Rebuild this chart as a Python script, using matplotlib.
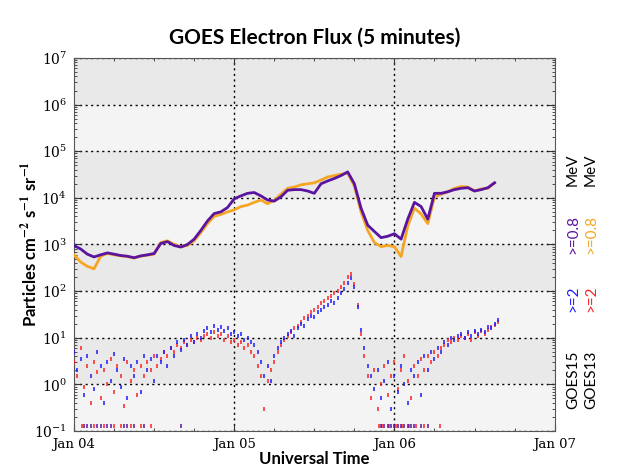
import numpy as np
import matplotlib.pyplot as plt
from matplotlib.ticker import LogLocator, NullFormatter, MultipleLocator

plt.rcParams['mathtext.fontset'] = 'stix'

# hours after Jan 04 00:00 UT
day_labels = ["Jan 04", "Jan 05", "Jan 06", "Jan 07"]
decades = [10.0**k for k in range(-1, 8)]

# >=0.8 MeV, hourly readings
hours_08 = np.arange(64)
goes15_08 = [950, 800, 620, 540, 600, 660, 620, 580, 560, 520, 570, 600, 640, 1050, 1150, 950,
             880, 1000, 1300, 2000, 3200, 4600, 5000, 6200, 9500, 11000, 12500, 13000, 11000, 9000, 8500, 10500,
             14500, 15000, 15000, 14000, 12500, 20000, 23000, 26000, 30000, 36000, 20000, 6000, 2600, 1900, 1400, 1500,
             1700, 1300, 3500, 8000, 6500, 3500, 12500, 12500, 13500, 15000, 16000, 16500, 14000, 15000, 16500, 21000]
goes13_08 = [600, 420, 340, 300, 560, 640, 600, 570, 550, 510, 560, 590, 620, 1100, 1200, 1000,
             900, 950, 1200, 1800, 2800, 4000, 4400, 5000, 5500, 6500, 7000, 8000, 9000, 7500, 8800, 12000,
             16000, 17000, 19000, 20000, 21000, 24000, 28000, 30000, 32000, 34000, 18000, 5000, 2000, 1100, 900, 950,
             900, 550, 2500, 6000, 4500, 2800, 10500, 12000, 13500, 16000, 17500, 17000, 14000, 15500, 16000, 21000]

# >=2 MeV, half-hourly readings
hours_2 = np.arange(128) / 2.0
goes15_2 = [5, 2, 3.5, 0.6, 4, 1.5, 0.8, 5, 2.5, 0.4, 3, 1.2, 4.5, 2, 0.9, 3.5,
            0.5, 2.5, 1.5, 3, 0.7, 4, 2, 3.5, 1.2, 4, 3, 5, 2.5, 6, 4, 8,
            5.5, 9, 7, 11, 8, 12, 10, 14, 16, 13, 18, 15, 17, 14, 16, 12,
            13, 11, 12, 9, 10, 8, 7, 5, 3, 1.5, 2.5, 1.2, 4, 6, 8, 10,
            12, 14, 11, 16, 20, 18, 25, 30, 28, 35, 40, 45, 50, 60, 55, 70,
            90, 110, 150, 190, 120, 45, 15, 6, 2.5, 1.5, 0.8, 2, 0.5, 1.2, 3, 0.3,
            1.5, 0.7, 2.5, 1.0, 0.4, 2, 1.5, 3, 0.6, 4, 2, 5, 3.5, 6, 5, 8,
            7, 10, 9, 11, 12, 10, 13, 11, 14, 12, 15, 13, 17, 16, 20, 24]
goes13_2 = [3, 1.5, 6, 0.9, 2.5, 0.4, 3, 1.8, 0.5, 2, 1, 3.5, 0.7, 2.5, 1.5, 0.35,
            3, 1.2, 2, 0.6, 2.5, 1.5, 3, 2, 4, 2.5, 3.5, 5, 4, 6, 5, 7,
            6, 8, 7, 9, 8, 10, 9, 11, 12, 10, 13, 11, 12, 9, 11, 8,
            9, 7, 8, 6, 7, 5, 4, 2.5, 1.5, 0.3, 1.2, 2, 3, 5, 7, 9,
            11, 13, 16, 18, 22, 26, 30, 35, 40, 45, 55, 60, 70, 80, 90, 100,
            120, 150, 200, 230, 140, 50, 12, 4, 1.5, 0.5, 2, 0.3, 1, 2.5, 0.6, 1.5,
            3, 0.8, 2, 4, 1.2, 0.5, 2.5, 1.5, 3.5, 2, 4, 3, 5, 4, 6, 7,
            9, 8, 10, 9, 11, 10, 12, 9, 13, 11, 14, 12, 15, 17, 19, 22]

# readings sitting on the bottom floor
floor_val = 0.13
goes15_floor_hours = [1.5, 2, 2.5, 3.5, 4, 5, 5.5, 7.5, 8, 9, 10.5, 16,
                      46, 46.5, 47, 47.5, 48, 48.5, 49, 49.5, 50, 50.5, 51, 52, 53]
goes13_floor_hours = [1.2, 3, 4.5, 6, 7, 8.5, 10, 11.5,
                      45.7, 46.2, 47.2, 48.2, 49.2, 50.2, 51.2, 52.5, 54.8]

purple = '#5a14a0'
orange = '#f5a623'
blue = '#1a1aff'
red = '#ff2020'

fig = plt.figure(figsize=(6.4, 4.67), dpi=100)
ax = fig.add_axes([0.1156, 0.077, 0.751, 0.799])

# alternating decade bands
for i in range(len(decades) - 1):
    ax.axhspan(decades[i], decades[i + 1], color='#f4f4f4' if i % 2 == 0 else '#e9e9e9', lw=0, zorder=0)

ax.set_yscale('log')
ax.set_ylim(0.1, 1e7)
ax.set_xlim(0, 72)

for v in decades:
    ax.axhline(v, color='black', ls=(0, (1.5, 2.5)), lw=1, zorder=1)
for d in [24, 48]:
    ax.axvline(d, color='black', ls=(0, (1.5, 2.5)), lw=1, zorder=1)

ax.plot(hours_08, goes13_08, color=orange, lw=2.0, zorder=3)
ax.plot(hours_08, goes15_08, color=purple, lw=2.0, zorder=4)

mk = dict(marker='|', ls='none', ms=3.5, mew=1.1)
ax.plot(hours_2, goes13_2, color=red, zorder=3, **mk)
ax.plot(hours_2, goes15_2, color=blue, zorder=3, **mk)
ax.plot(goes13_floor_hours, [floor_val] * len(goes13_floor_hours), color=red, zorder=3, **mk)
ax.plot(goes15_floor_hours, [floor_val] * len(goes15_floor_hours), color=purple, zorder=3, **mk)

ax.set_xticks([0, 24, 48, 72])
ax.set_xticklabels(day_labels, family='DejaVu Serif', fontsize=9.5)
ax.xaxis.set_minor_locator(MultipleLocator(6))
ax.set_yticks(decades)
ax.yaxis.set_minor_locator(LogLocator(base=10, subs=np.arange(2, 10), numticks=20))
ax.yaxis.set_minor_formatter(NullFormatter())
ax.tick_params(which='both', direction='in', top=True, right=True, color='#333333')
ax.tick_params(which='major', length=5)
ax.tick_params(axis='x', which='major', pad=5)
ax.tick_params(axis='y', which='major', pad=5, labelsize=10)
ax.tick_params(which='minor', length=2.5)
for lab in ax.get_yticklabels():
    lab.set_family('DejaVu Serif')
for sp in ax.spines.values():
    sp.set_color('#555555')

ax.set_title('GOES Electron Flux (5 minutes)', fontsize=15, fontweight='bold', family='Lato', pad=10)
ax.set_xlabel('Universal Time', fontsize=12, fontweight='bold', family='Lato')
ax.xaxis.set_label_coords(0.5, -0.054)
ax.set_ylabel(r'Particles cm$^{\mathbf{-2}}$ s$^{\mathbf{-1}}$ sr$^{\mathbf{-1}}$',
              fontsize=12, fontweight='bold', family='Lato')
ax.yaxis.set_label_coords(-0.07, 0.5)

# right-side legend text
col_x = [573 / 640, 591 / 640]
rows = [(380, ['GOES15', 'GOES13'], ['black', 'black']),
        (299, ['>=2', '>=2'], [blue, red]),
        (234, ['>=0.8', '>=0.8'], [purple, orange]),
        (170, ['MeV', 'MeV'], ['black', 'black'])]
for py, texts, cols in rows:
    for cx, t, c in zip(col_x, texts, cols):
        fig.text(cx, 1 - py / 467, t, rotation=90, color=c, fontsize=11, family='Lato',
                 ha='center', va='center')

fig.savefig('out.png', dpi=100)
